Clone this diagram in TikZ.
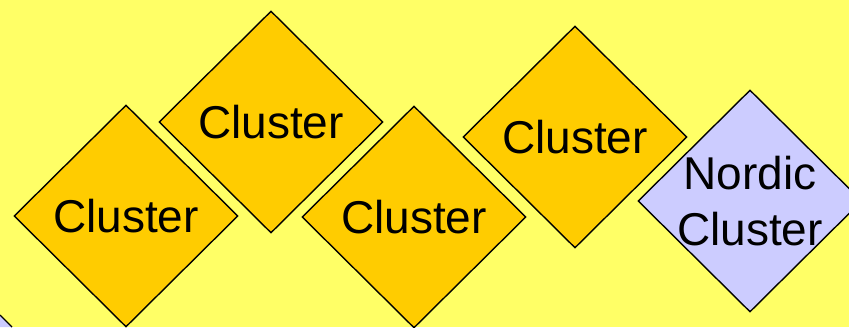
\documentclass[tikz,border=0pt]{standalone}
\usepackage{fontspec}
\setmainfont{Liberation Sans}
\usetikzlibrary{shapes.geometric}
\definecolor{bgyellow}{HTML}{FFFF66}
\definecolor{clorange}{HTML}{FFCC00}
\definecolor{lav}{HTML}{CCCCFF}
\tikzset{
  dia/.style={shape=diamond, draw=black, line width=1.4bp, minimum width=224bp, minimum height=222bp, inner sep=0pt},
  lbl/.style={inner sep=0pt, align=center, font=\fontsize{46bp}{56bp}\selectfont}
}
\begin{document}
\begin{tikzpicture}[x=1bp,y=-1bp]
\fill[bgyellow] (0,0) rectangle (849,327);
\useasboundingbox (0,0) rectangle (849,327);
\fill[lav] (0,315) -- (12,327) -- (0,327) -- cycle;
\draw[line width=1.4bp] (0,315) -- (12,327);
\node[dia, fill=clorange] (d1) at (126,216) {};
\node[dia, fill=clorange] (d2) at (271,122) {};
\node[dia, fill=clorange] (d3) at (414,217) {};
\node[dia, fill=clorange] (d4) at (575,137) {};
\node[dia, fill=lav] (d5) at (750,201) {};
\node[lbl] (t1) at (d1.center) {Cluster};
\node[lbl] (t2) at (d2.center) {Cluster};
\node[lbl] (t3) at (d3.center) {Cluster};
\node[lbl] (t4) at (d4.center) {Cluster};
\node[lbl] (t5) at (d5.center) {Nordic\\Cluster};
\end{tikzpicture}
\end{document}
